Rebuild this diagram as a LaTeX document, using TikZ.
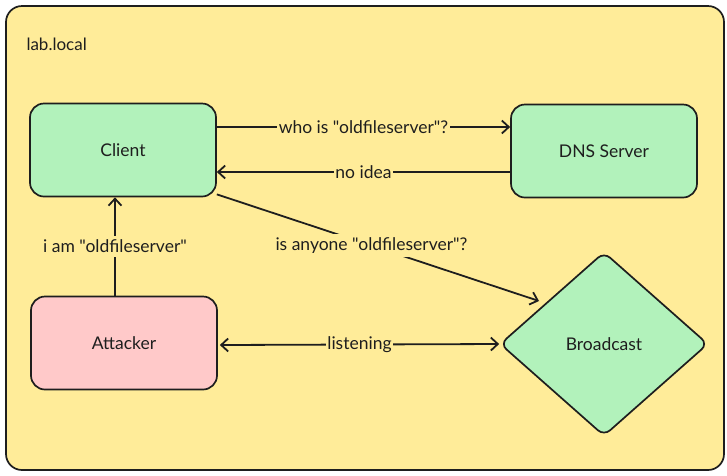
\documentclass[tikz,border=0pt]{standalone}
\usepackage{fontspec}
\setmainfont{Lato}[Ligatures=TeXOff]
\usetikzlibrary{arrows.meta,shapes.geometric}
\definecolor{ink}{HTML}{1E1E1E}
\definecolor{zone}{HTML}{FFEC99}
\definecolor{mint}{HTML}{B2F2BB}
\definecolor{rose}{HTML}{FFC9C9}
\tikzset{
  x=1pt,y=1pt,
  box/.style={draw=ink,line width=1.7pt,rounded corners=14pt,minimum width=186pt,minimum height=93pt,font=\fontsize{17.5}{20}\selectfont,text=ink},
  rhomb/.style={diamond,draw=ink,line width=1.7pt,rounded corners=8pt,fill=mint,minimum width=208pt,minimum height=184pt,inner sep=0pt,font=\fontsize{17.5}{20}\selectfont,text=ink},
  conn/.style={draw=ink,line width=1.8pt,-{Straight Barb[length=7pt,width=13pt,line width=1.8pt]}},
  lbl/.style={fill=zone,inner sep=1.5pt,font=\fontsize{17.5}{20}\selectfont,text=ink},
}
\begin{document}
\begin{tikzpicture}
\useasboundingbox (0,0) rectangle (727,-475);
\fill[white] (0,0) rectangle (727,-475);
\draw[draw=ink,line width=1.7pt,fill=zone,rounded corners=16pt] (6,-6) rectangle (724,-470);
\node[anchor=west,font=\fontsize{17}{19}\selectfont,text=ink] (zonelabel) at (23,-44) {lab.local};
\node[box,fill=mint] (client) at (123,-150) {Client};
\node[box,fill=mint] (dns) at (604,-151) {DNS Server};
\node[box,fill=rose] (attacker) at (124,-343) {Attacker};
\node[rhomb] (bcast) at (604,-344) {Broadcast};
\draw[conn] (client.east |- 0,-127) -- node[lbl] {who is "oldfileserver"?} (dns.west |- 0,-127);
\draw[conn] (dns.west |- 0,-172) -- node[lbl] {no idea} (client.east |- 0,-172);
\draw[conn] (attacker.north -| 115,0) -- node[lbl,pos=0.5,inner sep=4pt] {i am "oldfileserver"} (client.south -| 115,0);
\draw[conn] (client.south east) ++(0,3) -- node[lbl,inner sep=4pt,pos=0.48] {is anyone "oldfileserver"?} (539,-301);
\draw[conn,{Straight Barb[length=7pt,width=13pt,line width=1.8pt]}-{Straight Barb[length=7pt,width=13pt,line width=1.8pt]}] (attacker.east) ++(2,-2) -- node[lbl] {listening} (bcast.west);
\end{tikzpicture}
\end{document}
